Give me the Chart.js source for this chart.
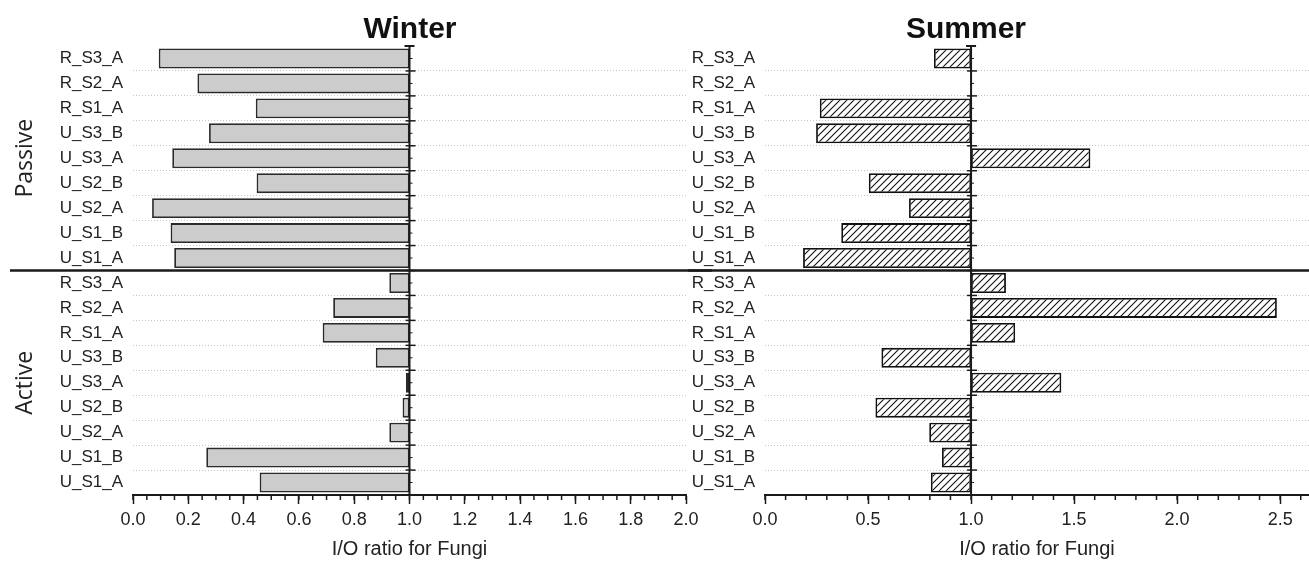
<!DOCTYPE html>
<html>
<head>
<meta charset="utf-8">
<script src="https://cdn.jsdelivr.net/npm/chart.js@4.4.1/dist/chart.umd.min.js"></script>
<style>
    body { margin: 0; background: #fff; }
    #winter { position: absolute; left: 0; top: 0; }
    #summer { position: absolute; left: 688px; top: 0; }
</style>
</head>
<body>
<canvas id="winter" width="712" height="561"></canvas>
<canvas id="summer" width="621" height="561"></canvas>
<script>
const categories = ['R_S3_A', 'R_S2_A', 'R_S1_A', 'U_S3_B', 'U_S3_A', 'U_S2_B', 'U_S2_A', 'U_S1_B', 'U_S1_A']
const groups = ['Passive', 'Active']

// top to bottom, bars start at 1.0
const winterPassive = [0.093, 0.233, 0.444, 0.275, 0.142, 0.447, 0.069, 0.136, 0.149]
const winterActive = [0.927, 0.724, 0.686, 0.878, 0.987, 0.975, 0.927, 0.265, 0.458]
const summerPassive = [0.82, null, 0.266, 0.248, 1.579, 0.504, 0.699, 0.37, 0.185]
const summerActive = [1.169, 2.484, 1.214, 0.565, 1.438, 0.536, 0.797, 0.859, 0.805]

const winterTicks = [0, 0.2, 0.4, 0.6, 0.8, 1.0, 1.2, 1.4, 1.6, 1.8, 2.0]
const summerTicks = [0, 0.5, 1.0, 1.5, 2.0, 2.5]

const labels = [...categories, ...categories]
const toFloating = (arr) => arr.map((v) => v == null ? null : [v, 1])

const makeHatch = function() {
    let c = document.createElement('canvas')
    c.width = 7
    c.height = 7
    let g = c.getContext('2d')
    g.fillStyle = '#ffffff'
    g.fillRect(0, 0, 7, 7)
    g.strokeStyle = '#111'
    g.lineWidth = 1.1
    g.beginPath()
    g.moveTo(-1, 8); g.lineTo(8, -1)
    g.moveTo(-1, 1); g.lineTo(1, -1)
    g.moveTo(6, 8); g.lineTo(8, 6)
    g.stroke()
    return g.createPattern(c, 'repeat')
}

const decorPlugin = {
    id: 'decor',
    afterDraw(chart, args, opts) {
        const ctx = chart.ctx
        const xs = chart.scales.x
        const ys = chart.scales.y
        const area = chart.chartArea
        const n = labels.length
        const step = ys.getPixelForValue(1) - ys.getPixelForValue(0)
        const x1 = xs.getPixelForValue(1)
        ctx.save()
        ctx.strokeStyle = '#1a1a1a'

        // minor ticks on the x axis
        ctx.lineWidth = 1.5
        for (let k = 0; k * opts.minorStep <= xs.max + 1e-9; k++) {
            let px = xs.getPixelForValue(k * opts.minorStep)
            ctx.beginPath()
            ctx.moveTo(px, area.bottom)
            ctx.lineTo(px, area.bottom + 5)
            ctx.stroke()
        }

        // the 1.0 line with its ticks
        ctx.lineWidth = 2
        ctx.beginPath()
        ctx.moveTo(x1, area.top)
        ctx.lineTo(x1, area.bottom)
        ctx.moveTo(x1 - 5, area.top)
        ctx.lineTo(x1 + 5, area.top)
        ctx.stroke()
        ctx.lineWidth = 1.5
        for (let i = 1; i < n; i++) {
            let y = ys.getPixelForValue(i) - step / 2
            ctx.beginPath()
            ctx.moveTo(x1 - 4, y)
            ctx.lineTo(x1 + 6, y)
            ctx.stroke()
        }
        ctx.lineWidth = 1
        for (let i = 0; i < n; i++) {
            let y = ys.getPixelForValue(i)
            ctx.beginPath()
            ctx.moveTo(x1, y)
            ctx.lineTo(x1 + 3, y)
            ctx.stroke()
        }

        // Passive / Active separator
        const ySep = ys.getPixelForValue(categories.length) - step / 2
        ctx.lineWidth = 2.5
        ctx.beginPath()
        ctx.moveTo(opts.sepLeft, ySep)
        ctx.lineTo(chart.width, ySep)
        ctx.stroke()

        if (opts.groupLabels) {
            ctx.fillStyle = '#222'
            ctx.font = '23px "Open Sans"'
            ctx.textAlign = 'center'
            ctx.textBaseline = 'alphabetic'
            groups.forEach((name, g) => {
                let yc = (ys.getPixelForValue(g * categories.length) - step / 2 +
                    ys.getPixelForValue((g + 1) * categories.length - 1) + step / 2) / 2
                ctx.save()
                ctx.translate(32, yc)
                ctx.rotate(-Math.PI / 2)
                ctx.fillText(name, 0, 0)
                ctx.restore()
            })
        }

        ctx.fillStyle = '#111'
        ctx.font = 'bold 30px "Liberation Sans"'
        ctx.textAlign = 'center'
        ctx.textBaseline = 'alphabetic'
        ctx.fillText(opts.title, opts.titleX, 38)
        ctx.restore()
    }
}

const makeChart = function(canvasId, passive, active, opt) {
    let ctx = document.getElementById(canvasId).getContext('2d')
    const fill = opt.hatch ? makeHatch() : '#cccccc'
    const config = {
        type: 'bar',
        data: {
            labels: labels,
            datasets: [{
                data: toFloating([...passive, ...active]),
                backgroundColor: fill,
                borderColor: opt.hatch ? '#111111' : '#2a2a2a',
                borderWidth: 1.8,
                borderSkipped: false,
                barPercentage: 0.8,
                categoryPercentage: 1.0,
            }]
        },
        options: {
            indexAxis: 'y',
            responsive: false,
            animation: false,
            layout: {
                padding: { top: 46, right: opt.padRight, bottom: 0, left: 0 }
            },
            plugins: {
                legend: { display: false },
                tooltip: { enabled: false },
                decor: {
                    minorStep: opt.minorStep,
                    sepLeft: opt.sepLeft,
                    groupLabels: opt.groupLabels,
                    title: opt.title,
                    titleX: opt.titleX,
                }
            },
            scales: {
                x: {
                    type: 'linear',
                    min: 0,
                    max: opt.max,
                    afterBuildTicks: (scale) => {
                        scale.ticks = opt.ticks.map((v) => ({ value: v }))
                    },
                    afterFit: (scale) => { scale.height = 66 },
                    ticks: {
                        callback: (v) => Number(v).toFixed(1),
                        color: '#222',
                        padding: 5,
                        maxRotation: 0,
                        font: { family: 'Liberation Sans', size: 18 }
                    },
                    grid: {
                        drawOnChartArea: false,
                        drawTicks: true,
                        tickLength: 9,
                        tickColor: '#1a1a1a',
                        tickWidth: 1.5,
                    },
                    border: { display: true, color: '#1a1a1a', width: 2 },
                    title: {
                        display: true,
                        text: 'I/O ratio for Fungi',
                        color: '#222',
                        font: { family: 'Liberation Sans', size: 20 },
                        padding: { top: 0, bottom: 0 }
                    }
                },
                y: {
                    type: 'category',
                    afterFit: (scale) => { scale.width = opt.yWidth },
                    ticks: {
                        color: '#222',
                        padding: 10,
                        autoSkip: false,
                        font: { family: 'Liberation Sans', size: 17 }
                    },
                    grid: {
                        offset: true,
                        drawTicks: false,
                        lineWidth: 1,
                        color: (c) => (c.index > 0 && c.index < labels.length && c.index !== categories.length) ? '#c4c4c4' : 'rgba(0,0,0,0)'
                    },
                    border: { display: false, dash: [1, 2] }
                }
            }
        },
        plugins: [decorPlugin]
    }
    return new Chart(ctx, config)
}

makeChart('winter', winterPassive, winterActive, {
    hatch: false, max: 2.0, ticks: winterTicks, minorStep: 0.05,
    padRight: 26, yWidth: 133, sepLeft: 10, groupLabels: true,
    title: 'Winter', titleX: 410
})

makeChart('summer', summerPassive, summerActive, {
    hatch: true, max: 2.64, ticks: summerTicks, minorStep: 0.1,
    padRight: 0, yWidth: 77, sepLeft: 0, groupLabels: false,
    title: 'Summer', titleX: 278
})
</script>
</body>
</html>
